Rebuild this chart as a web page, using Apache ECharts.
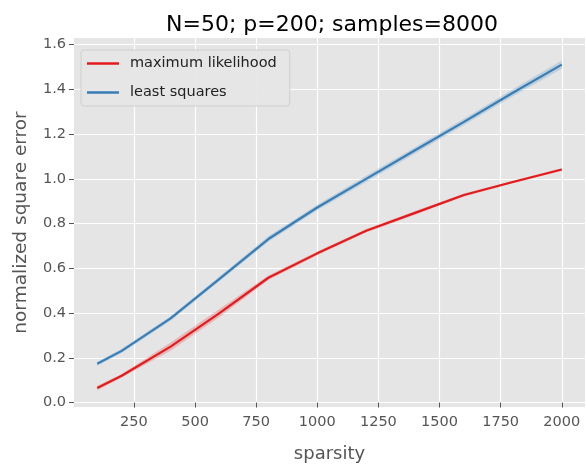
<!DOCTYPE html>
<html><head><meta charset="utf-8">
<script src="https://cdn.jsdelivr.net/npm/echarts@6/dist/echarts.min.js"></script>
<style>html,body{margin:0;padding:0;background:#fff}#c{width:586px;height:468px}</style>
</head><body><div id="c"></div>
<script>
const sparsity = [100, 200, 400, 600, 800, 1000, 1200, 1400, 1600, 1800, 2000];
const mlMean = [0.065, 0.12, 0.25, 0.40, 0.558, 0.667, 0.768, 0.848, 0.928, 0.986, 1.042];
const mlLow  = [0.055, 0.112, 0.232, 0.382, 0.548, 0.659, 0.760, 0.840, 0.921, 0.980, 1.036];
const mlHigh = [0.075, 0.128, 0.268, 0.418, 0.568, 0.675, 0.776, 0.856, 0.935, 0.992, 1.048];
const lsMean = [0.173, 0.231, 0.376, 0.553, 0.731, 0.872, 1.000, 1.128, 1.255, 1.385, 1.511];
const lsLow  = [0.165, 0.222, 0.366, 0.542, 0.719, 0.860, 0.986, 1.114, 1.241, 1.369, 1.493];
const lsHigh = [0.181, 0.240, 0.386, 0.564, 0.743, 0.884, 1.014, 1.142, 1.269, 1.401, 1.529];
const xTicks = [250, 500, 750, 1000, 1250, 1500, 1750, 2000];
const yTicks = [0.0, 0.2, 0.4, 0.6, 0.8, 1.0, 1.2, 1.4, 1.6];

const RED = '#E41A1C', BLUE = '#377EB8';
const pairs = (xs, ys) => xs.map((x, i) => [x, ys[i]]);
function band(name, low, high, color) {
  const data = sparsity.map((x, i) => [x, low[i], high[i]]);
  return {
    name: name, type: 'custom', data: data, silent: true, z: 1,
    encode: {x: 0, y: [1, 2]},
    renderItem: function (params, api) {
      if (params.dataIndex !== 0) return null;
      const up = data.map(d => api.coord([d[0], d[2]]));
      const dn = data.map(d => api.coord([d[0], d[1]])).reverse();
      return {type: 'polygon', shape: {points: up.concat(dn)},
        style: {fill: color, opacity: 0.22}};
    }
  };
}
const chart = echarts.init(document.getElementById('c'), null, {renderer: 'canvas'});
const font = 'DejaVu Sans';
chart.setOption({
  animation: false,
  title: {text: 'N=50; p=200; samples=8000', left: 327, top: 9, textAlign: 'center',
    textStyle: {fontFamily: font, fontSize: 22, fontWeight: 'normal', color: '#000'}},
  grid: {left: 74, right: 1, top: 38, bottom: 59, show: true, backgroundColor: '#E5E5E5', borderWidth: 0},
  legend: {
    data: ['maximum likelihood', 'least squares'], orient: 'vertical', left: 81, top: 50,
    icon: 'rect', itemWidth: 32, itemHeight: 2.5, itemGap: 14,
    backgroundColor: 'rgba(229,229,229,0.9)', borderColor: '#cfcfcf', borderWidth: 1, borderRadius: 3,
    padding: [6, 13, 6, 6],
    textStyle: {fontFamily: font, fontSize: 14.5, color: '#222', padding: [0, 0, 0, 6]}
  },
  xAxis: {type: 'value', min: 5, max: 2095, name: 'sparsity', nameLocation: 'middle', nameGap: 38,
    nameTextStyle: {fontFamily: font, fontSize: 18, color: '#555'},
    axisLine: {show: false},
    axisTick: {show: true, customValues: xTicks, length: 5, lineStyle: {color: '#555'}},
    axisLabel: {customValues: xTicks, fontFamily: font, fontSize: 14.5, color: '#555', margin: 8,
      formatter: v => String(v)},
    splitLine: {show: true, lineStyle: {color: '#fff', width: 1.2}}},
  yAxis: {type: 'value', min: -0.02, max: 1.63, name: 'normalized square error', nameLocation: 'middle', nameGap: 43,
    nameTextStyle: {fontFamily: font, fontSize: 18.5, color: '#555'},
    axisLine: {show: false},
    axisTick: {show: true, customValues: yTicks, length: 5, lineStyle: {color: '#555'}},
    axisLabel: {customValues: yTicks, fontFamily: font, fontSize: 14.5, color: '#555', margin: 8,
      formatter: v => v.toFixed(1)},
    splitLine: {show: true, lineStyle: {color: '#fff', width: 1.2}}},
  series: [
    band('mlband', mlLow, mlHigh, RED),
    band('lsband', lsLow, lsHigh, BLUE),
    {name: 'maximum likelihood', type: 'line', data: pairs(sparsity, mlMean), symbol: 'none',
     lineStyle: {color: RED, width: 2.2}, itemStyle: {color: RED}, z: 3},
    {name: 'least squares', type: 'line', data: pairs(sparsity, lsMean), symbol: 'none',
     lineStyle: {color: BLUE, width: 2.2}, itemStyle: {color: BLUE}, z: 3}
  ]
});
</script></body></html>
